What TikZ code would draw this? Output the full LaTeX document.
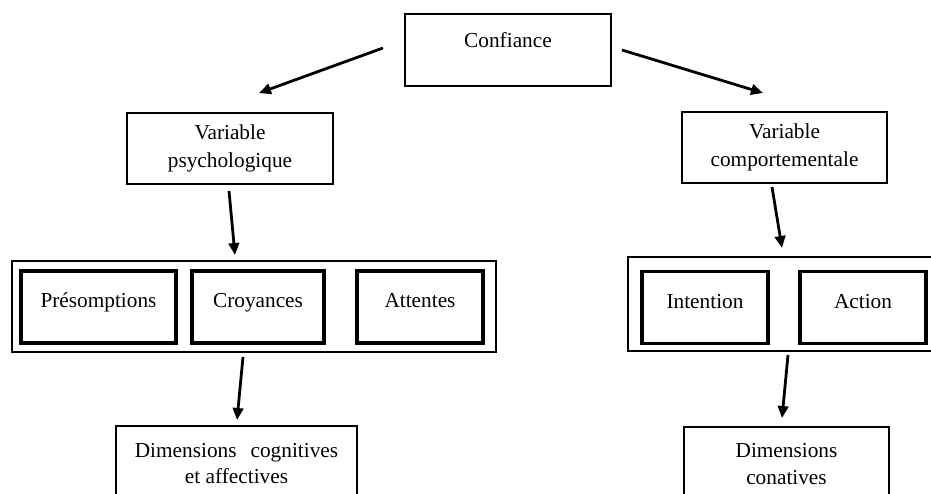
\documentclass[tikz,border=0pt]{standalone}
\usepackage{fontspec}
\setmainfont{Liberation Serif}
\usetikzlibrary{arrows.meta,calc}
\begin{document}
\begin{tikzpicture}[x=1pt,y=-1pt,
  every node/.style={font=\fontsize{21.3}{28}\selectfont, inner sep=0pt, outer sep=0pt},
  box/.style={draw, line width=2.2pt, rectangle, align=center},
  inbox/.style={draw, line width=3.3pt, rectangle, minimum height=72pt, text height=15pt, text depth=14pt},
  grp/.style={draw, line width=1.3pt, rectangle},
  arr/.style={line width=2.8pt, -{Triangle[length=12pt,width=10.5pt]}}]
\fill[white] (0,0) rectangle (931,493);
\useasboundingbox (0,0) rectangle (931,493);

% top
\node[box, minimum width=206pt, minimum height=72pt, text height=15pt, text depth=19.6pt] (conf) at (508,50) {Confiance};
\node[box, minimum width=206pt, minimum height=71pt] (vp) at (230,148.5) {Variable\\psychologique};
\node[box, minimum width=205pt, minimum height=71pt] (vc) at (784.5,147.5) {Variable\\comportementale};

% left group
\node[grp, minimum width=484pt, minimum height=91pt] (gl) at (254,306.5) {};
\node[inbox, minimum width=155pt] (pres) at (98.5,307) {Présomptions};
\node[inbox, minimum width=132pt] (croy) at (258,307) {Croyances};
\node[inbox, minimum width=126pt] (att) at (420,307) {Attentes};

% right group
\node[grp, minimum width=312pt, minimum height=94pt] (gr) at (784,304) {};
\node[inbox, minimum width=126pt] (int) at (705,307.5) {Intention};
\node[inbox, minimum width=126pt] (act) at (863,307.5) {Action};

% bottom
\node[box, font=\fontsize{21.3}{26}\selectfont, minimum width=241pt, minimum height=100pt] (dc) at (236.5,476) {Dimensions\hspace{14pt}cognitives\\et affectives\\\mbox{}};
\node[box, font=\fontsize{21.3}{27}\selectfont, minimum width=205pt, minimum height=100pt] (dn) at (786.5,477) {Dimensions\\conatives\\\mbox{}};

% arrows
\draw[arr] ($(conf.west)+(-22,-2)$) -- ($(vp.north)+(29,-20)$);
\draw[arr] ($(conf.east)+(11,0)$) -- ($(vc.north)+(-21.5,-19)$);
\draw[arr] ($(vp.south)+(-1,7)$) -- ($(gl.north)+(-19,-6)$);
\draw[arr] ($(vc.south)+(-12.5,4)$) -- ($(gr.north)+(-2,-9)$);
\draw[arr] ($(gl.south)+(-11,5)$) -- ($(dc.north)+(0.5,-6)$);
\draw[arr] ($(gr.south)+(4,4)$) -- ($(dn.north)+(-4.5,-9)$);
\end{tikzpicture}
\end{document}
